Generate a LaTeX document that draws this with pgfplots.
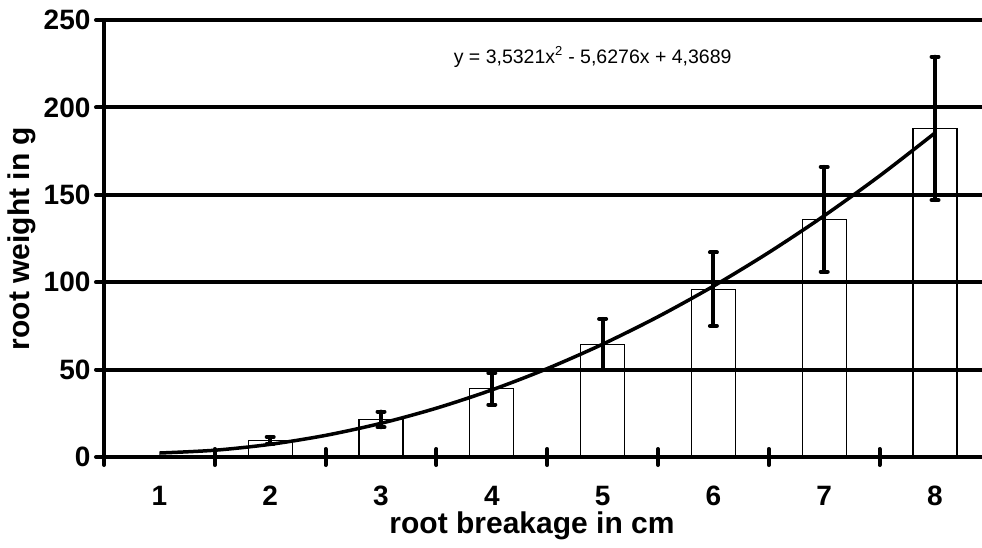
\documentclass[border=0pt]{standalone}
\usepackage{pgfplots}
\pgfplotsset{compat=1.18}
\usepackage{pgfplotstable}
\usepackage{fontspec}
\setmainfont{Liberation Sans}

\pgfplotstableread{
x y e
1 0 0
2 9.5 2
3 21.5 4.5
4 39 9
5 64.5 14.5
6 96 21
7 136 30
8 188 41
}\bars

\begin{document}
\begin{tikzpicture}
\useasboundingbox (0,0) rectangle (982pt,547pt);
\begin{axis}[
  at={(104pt,90pt)}, anchor=south west,
  scale only axis, width=878pt, height=437pt,
  xmin=0.5, xmax=8.424, ymin=0, ymax=250,
  axis x line*=bottom, axis y line*=left,
  axis line style={line width=4pt, black},
  xtick={1,...,8},
  minor xtick={0.5,1.5,...,7.5},
  ytick={0,50,...,250},
  major x tick style={draw=none},
  tick align=center,
  major tick length=16pt, minor tick length=16pt,
  tick style={line width=4pt, black, line cap=round},
  ymajorgrids,
  major grid style={line width=4pt, black},
  /pgf/number format/assume math mode=true,
  tick label style={font=\fontsize{28}{28}\selectfont\bfseries},
  yticklabel style={anchor=east, xshift=-2pt},
  xticklabel style={anchor=center, yshift=-31pt},
  label style={font=\fontsize{30}{30}\selectfont\bfseries},
  xlabel={root breakage in cm},
  ylabel={root weight in g},
  xlabel style={at={(axis description cs:0.4875,-0.1739)}, anchor=base},
  ylabel style={at={(axis description cs:-0.0843,0.5)}, anchor=base},
  clip=false,
]
\addplot[ybar, bar width=44pt, fill=none, draw=black, line width=1.2pt,
  error bars/.cd, y dir=both, y explicit,
  error bar style={line width=4pt, line cap=round},
  error mark options={rotate=90, mark size=3.5pt, line width=4pt, line cap=round}]
  table[x=x, y=y, y error=e] {\bars};
\addplot[smooth, line width=3.5pt, black] coordinates {
(1,2.2734) (1.5,3.8747) (2,7.2421) (2.5,12.3755) (3,19.275) (3.5,27.9405)
(4,38.3721) (4.5,50.5697) (5,64.5334) (5.5,80.2631) (6,97.7589)
(6.5,117.0205) (7,138.0486) (7.5,160.8429) (8,185.4025)};
\node[font=\fontsize{19.5}{24}\selectfont] at (axis cs:4.91,228.8)
  {y = 3,5321x\textsuperscript{\fontsize{13}{13}\selectfont 2} - 5,6276x + 4,3689};
\end{axis}
\end{tikzpicture}
\end{document}
